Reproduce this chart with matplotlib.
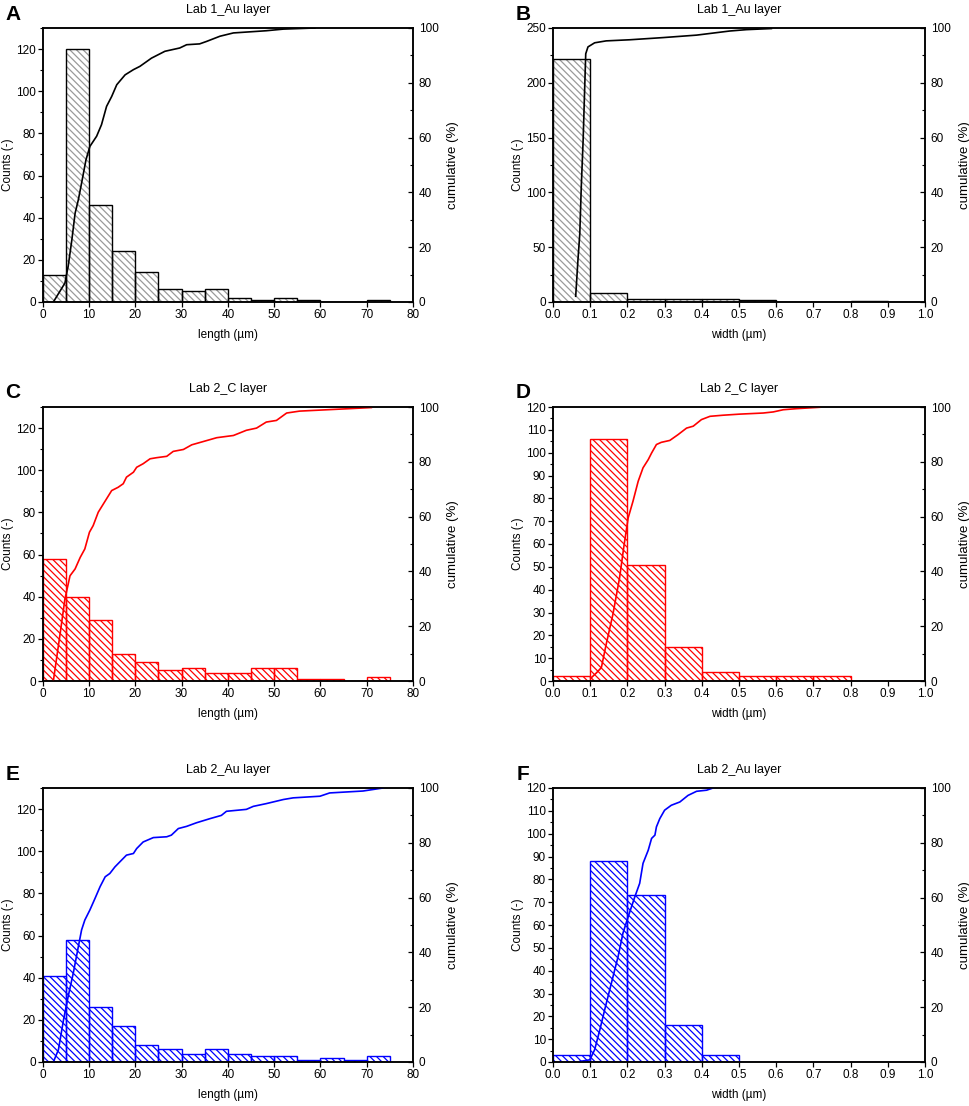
import matplotlib.pyplot as plt
from matplotlib.ticker import MultipleLocator, FormatStrFormatter

plt.rcParams['font.family'] = ['Liberation Sans', 'DejaVu Sans']
plt.rcParams['font.size'] = 8.5
plt.rcParams['hatch.linewidth'] = 0.9

# bin left edges
length_bins = [0, 5, 10, 15, 20, 25, 30, 35, 40, 45, 50, 55, 60, 65, 70]
width_bins = [0.0, 0.1, 0.2, 0.3, 0.4, 0.5, 0.6, 0.7, 0.8, 0.9]

# counts per bin
a_counts = [13, 120, 46, 24, 14, 6, 5, 6, 2, 1, 2, 1, 0, 0, 1]
b_counts = [222, 8, 3, 3, 3, 2, 0, 0, 1, 0]
c_counts = [58, 40, 29, 13, 9, 5, 6, 4, 4, 6, 6, 1, 1, 0, 2]
d_counts = [2, 106, 51, 15, 4, 2, 2, 2, 0, 0]
e_counts = [41, 58, 26, 17, 8, 6, 4, 6, 4, 3, 3, 1, 2, 1, 3]
f_counts = [3, 88, 73, 16, 3, 0, 0, 0, 0, 0]

# cumulative curves (%)
a_cum_x = [2.3, 4.8, 5.5, 6.3, 7.0, 7.7, 8.4, 9.35, 10.2, 11.65, 12.7, 13.8, 14.9, 16.0,
           17.8, 19.6, 21.0, 23.5, 26.4, 29.6, 31.1, 33.9, 35.4, 38.3, 41.2, 48.3, 52.0, 58.8]
a_cum_y = [0, 6.9, 13, 22.7, 32.4, 37.3, 43.4, 51.9, 56.8, 60.5, 64.7, 71.4, 75, 79.3,
           82.9, 84.8, 86, 89, 91.5, 92.7, 93.9, 94.2, 95.1, 97, 98.2, 99, 99.6, 100]

b_cum_x = [0.061, 0.067, 0.072, 0.076, 0.081, 0.085, 0.088, 0.094, 0.112, 0.143, 0.206,
           0.296, 0.386, 0.475, 0.52, 0.587]
b_cum_y = [2.1, 15.2, 24.9, 42, 59, 77.3, 90.6, 93.1, 94.6, 95.3, 95.7,
           96.5, 97.4, 98.9, 99.4, 99.8]

c_cum_x = [2.3, 3.7, 4.8, 5.9, 7.0, 8.1, 9.1, 10.1, 10.9, 12.0, 13.1, 14.9, 16.3, 17.4,
           18.1, 19.6, 20.3, 21.7, 23.2, 24.6, 26.8, 28.2, 30.4, 32.2, 34.7, 37.6, 41.2,
           44.0, 46.2, 48.3, 50.5, 52.7, 55.5, 59.1, 66.3, 71.0]
c_cum_y = [0, 16.5, 29.9, 38.4, 40.9, 45.1, 48.2, 54.3, 56.7, 61.6, 64.6, 69.5, 70.7, 72,
           74.4, 76.2, 78, 79.3, 81.1, 81.5, 82, 83.8, 84.5, 86.2, 87.4, 88.8, 89.6,
           91.5, 92.3, 94.5, 95.1, 97.8, 98.5, 98.8, 99.4, 99.8]

d_cum_x = [0.103, 0.117, 0.130, 0.143, 0.161, 0.179, 0.190, 0.202, 0.215, 0.229, 0.242,
           0.256, 0.265, 0.278, 0.291, 0.314, 0.336, 0.359, 0.377, 0.399, 0.422, 0.457,
           0.502, 0.565, 0.592, 0.619, 0.655, 0.717]
d_cum_y = [1.2, 3, 4.9, 13.4, 24.3, 37.7, 48.6, 59.5, 65.6, 72.9, 77.8,
           80.8, 83.2, 86.3, 87.1, 87.8, 89.9, 92.3, 93, 95.4, 96.6, 97,
           97.4, 97.8, 98.2, 99, 99.4, 99.9]

e_cum_x = [2.3, 3.4, 4.5, 5.5, 6.6, 7.7, 8.4, 9.1, 10.2, 11.3, 12.4, 13.5, 14.5, 15.6,
           16.7, 18.1, 19.6, 20.3, 21.7, 23.9, 26.8, 27.8, 29.3, 31.1, 33.2, 36.1, 38.6,
           39.7, 44.0, 45.5, 48.3, 52.0, 54.1, 59.9, 62.0, 69.2, 73.5]
e_cum_y = [0, 4.5, 15.4, 23.9, 32.4, 42.1, 48.2, 51.8, 55.5, 59.7, 64, 67.6, 68.8, 71.2,
           73.1, 75.5, 76.1, 77.9, 80.3, 81.9, 82.2, 82.8, 85.2, 86, 87.3, 88.8, 90,
           91.5, 92.2, 93.3, 94.3, 95.8, 96.4, 97, 98.2, 98.9, 100]

f_cum_x = [0.072, 0.099, 0.112, 0.126, 0.139, 0.157, 0.175, 0.188, 0.202, 0.220, 0.233,
           0.242, 0.256, 0.265, 0.274, 0.278, 0.287, 0.300, 0.318, 0.341, 0.363, 0.386,
           0.413, 0.430]
f_cum_y = [0.2, 0.8, 4.5, 11.8, 19.1, 28.8, 38.5, 47, 53, 60.3, 65.2,
           72.5, 77.3, 81.6, 82.8, 85.8, 88.8, 91.9, 93.7, 94.9, 97.3, 98.8,
           99.2, 100]

W, H = 969, 1106
col_left = [42.7, 553]
col_right = [413, 925]
row_top = [28, 407, 788]
row_bot = [302, 681, 1062]


def draw_panel(fig, col, row, letter, title, bins, bw, counts, cum_x, cum_y,
               color, hatch_color, kind, ymax, ymajor, yminor):
    l, r = col_left[col], col_right[col]
    t, b = row_top[row], row_bot[row]
    ax = fig.add_axes([l / W, 1 - b / H, (r - l) / W, (b - t) / H])

    # hatched fill, then outline
    ax.bar(bins, counts, width=bw, align='edge', color='white',
           edgecolor=hatch_color, hatch='\\' * 5, linewidth=0)
    ax.bar(bins, counts, width=bw, align='edge', fill=False,
           edgecolor=color, linewidth=1.0)

    if kind == 'length':
        ax.set_xlim(0, 80)
        ax.xaxis.set_major_locator(MultipleLocator(10))
        ax.set_xlabel('length (µm)', labelpad=6)
    else:
        ax.set_xlim(0, 1.0)
        ax.xaxis.set_major_locator(MultipleLocator(0.1))
        ax.xaxis.set_major_formatter(FormatStrFormatter('%.1f'))
        ax.set_xlabel('width (µm)', labelpad=6)

    ax.set_ylim(0, ymax)
    ax.yaxis.set_major_locator(MultipleLocator(ymajor))
    ax.yaxis.set_minor_locator(MultipleLocator(yminor))
    ax.set_ylabel('Counts (-)')
    ax.yaxis.set_label_coords(-0.078, 0.5)
    ax.tick_params(axis='both', which='major', direction='out', length=3.5, width=0.9, pad=1.5)
    ax.tick_params(axis='y', which='minor', direction='out', length=2, width=0.8)
    ax.set_title(title, fontsize=9, pad=11)

    ax2 = ax.twinx()
    ax2.plot(cum_x, cum_y, color=color, linewidth=1.2)
    ax2.set_ylim(0, 100)
    ax2.yaxis.set_major_locator(MultipleLocator(20))
    ax2.yaxis.set_minor_locator(MultipleLocator(10))
    ax2.tick_params(axis='y', which='major', direction='in', length=3.5, width=0.9, pad=4)
    ax2.tick_params(axis='y', which='minor', direction='in', length=2, width=0.8)
    ax2.set_ylabel('cumulative (%)', fontsize=9.5, labelpad=6)

    for a in (ax, ax2):
        for s in a.spines.values():
            s.set_linewidth(1.1)

    fig.text((l - 30) / W, 1 - (t - 14) / H, letter, fontsize=15, fontweight='bold',
             ha='center', va='center')


fig = plt.figure(figsize=(W / 100, H / 100), dpi=100)

gray = '#9a9a9a'
draw_panel(fig, 0, 0, 'A', 'Lab 1_Au layer', length_bins, 5, a_counts, a_cum_x, a_cum_y,
           'black', gray, 'length', 130, 20, 10)
draw_panel(fig, 1, 0, 'B', 'Lab 1_Au layer', width_bins, 0.1, b_counts, b_cum_x, b_cum_y,
           'black', gray, 'width', 250, 50, 25)
draw_panel(fig, 0, 1, 'C', 'Lab 2_C layer', length_bins, 5, c_counts, c_cum_x, c_cum_y,
           'red', 'red', 'length', 130, 20, 10)
draw_panel(fig, 1, 1, 'D', 'Lab 2_C layer', width_bins, 0.1, d_counts, d_cum_x, d_cum_y,
           'red', 'red', 'width', 120, 10, 5)
draw_panel(fig, 0, 2, 'E', 'Lab 2_Au layer', length_bins, 5, e_counts, e_cum_x, e_cum_y,
           'blue', 'blue', 'length', 130, 20, 10)
draw_panel(fig, 1, 2, 'F', 'Lab 2_Au layer', width_bins, 0.1, f_counts, f_cum_x, f_cum_y,
           'blue', 'blue', 'width', 120, 10, 5)

fig.savefig('out.png', dpi=100)
